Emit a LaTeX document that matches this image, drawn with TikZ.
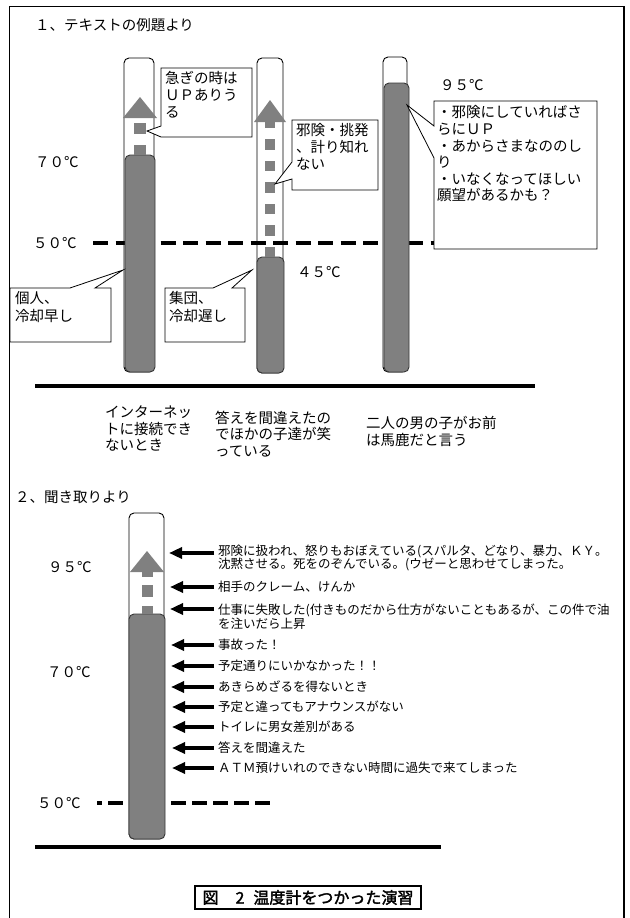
\documentclass[tikz,border=0pt]{standalone}
\usepackage{fontspec}
\setmainfont{Noto Sans CJK JP}
\newfontfamily\capfont[FakeBold=2]{Noto Sans CJK JP}
\usetikzlibrary{arrows.meta}
\definecolor{colgray}{RGB}{128,128,128}
\definecolor{coledge}{RGB}{55,55,55}
\begin{document}
\begin{tikzpicture}[x=1pt,y=-1pt,
  frameline/.style={draw=black,line width=1.4pt},
  tube/.style={draw=black,line width=0.9pt,fill=white,rounded corners=5pt},
  mercury/.style={draw=coledge,line width=0.9pt,fill=colgray,rounded corners=5pt},
  riser/.style={fill=colgray},
  callout/.style={draw=black,line width=0.8pt,fill=white,line join=miter},
  lbl/.style={anchor=west,inner sep=0pt,font=\fontsize{14.5}{17}\selectfont},
  mtext/.style={anchor=north west,inner sep=0pt,align=left,font=\fontsize{14.5}{17}\selectfont},
  stext/.style={anchor=west,inner sep=0pt,font=\fontsize{12.5}{13.5}\selectfont},
  smtext/.style={anchor=north west,inner sep=0pt,align=left,font=\fontsize{12.5}{13.5}\selectfont},
  ground/.style={draw=black,line width=3.2pt},
  limit/.style={draw=black,line width=4pt},
  pointer/.style={draw=black,line width=3.6pt,-{Triangle[length=13pt,width=11pt]}}
]
\useasboundingbox (0,0) rectangle (629,918);
\fill[white] (0,0) rectangle (629,918);
% frame
\draw[frameline] (9.5,918) -- (9.5,6.5) -- (624,6.5) -- (624,918);

% ===== section 1 =====
\node[lbl] (title1) at (35,25) {１、テキストの例題より};

% tubes
\draw[tube] (124,58) rectangle (154,372);
\draw[tube] (257,58) rectangle (283,373);
\draw[tube] (383,57) rectangle (407,372);

% 50 degree line
\draw[limit,dash pattern=on 15pt off 7.5pt] (93,243) -- (440,243);

% mercury columns
\draw[mercury] (125,155) rectangle (155,372);
\draw[mercury] (257,257) rectangle (284,373);
\draw[mercury] (384,83) rectangle (409,372);

% rising arrows
\fill[riser] (123,118) -- (140,97) -- (157,118) -- cycle;
\fill[riser] (134,123) rectangle (146,134);
\fill[riser] (134,145) rectangle (146,155);

\fill[riser] (254,122) -- (270,100) -- (286,122) -- cycle;
\fill[riser] (265,121) rectangle (275,128);
\foreach \yy in {139,160.5,182,203.5,225,246.5}
  \fill[riser] (265,\yy) rectangle (275,\yy+10.5);

% temperature labels
\node[lbl] (t70a) at (35,162) {７０℃};
\node[lbl] (t50a) at (33,243) {５０℃};
\node[lbl] (t45a) at (297,272) {４５℃};
\node[lbl] (t95a) at (440,85) {９５℃};

% callouts
\draw[callout] (161,68) -- (252,68) -- (252,137) -- (161,137) -- (147,131) -- (161,126) -- cycle;
\node[mtext] (c1) at (165,71.5) {急ぎの時は\\ＵＰありう\\る};

\draw[callout] (292,120) -- (378,120) -- (378,190) -- (292,190) -- (292,179) -- (275,184) -- (292,162) -- cycle;
\node[mtext] (c2) at (296,123.5) {邪険・挑発\\、計り知れ\\ない};

\draw[callout] (434,101) -- (597,101) -- (597,249) -- (434,249) -- (434,158) -- (407,105) -- (434,126) -- cycle;
\node[mtext,font=\fontsize{14.5}{16.6}\selectfont] (c3) at (437,105.5)
  {・邪険にしていればさ\\らにＵＰ\\・あからさまなののし\\り\\・いなくなってほしい\\願望があるかも？};

\draw[callout] (10,288) -- (70,288) -- (123,270) -- (95,288) -- (111,288) -- (111,342) -- (10,342) -- cycle;
\node[mtext,font=\fontsize{14.5}{18}\selectfont] (c4) at (15,291.5) {個人、\\冷却早し};

\draw[callout] (165,288) -- (213,288) -- (252,270) -- (232,288) -- (245,288) -- (245,342) -- (165,342) -- cycle;
\node[mtext,font=\fontsize{14.5}{18}\selectfont] (c5) at (169,291.5) {集団、\\冷却遅し};

% ground
\draw[ground] (35,386) -- (535,386);

% case labels
\node[mtext,font=\fontsize{14.5}{16.5}\selectfont] (case1) at (105,405.5) {インターネッ\\トに接続でき\\ないとき};
\node[mtext,font=\fontsize{14.5}{16.5}\selectfont] (case2) at (215,410.5) {答えを間違えたの\\でほかの子達が笑\\っている};
\node[mtext,font=\fontsize{14.5}{16.5}\selectfont] (case3) at (366,416.5) {二人の男の子がお前\\は馬鹿だと言う};

% ===== section 2 =====
\node[lbl] (title2) at (15,497) {２、聞き取りより};

\draw[tube] (129,513) rectangle (164,839);
\draw[limit,dash pattern=on 15pt off 6pt,dash phase=10pt] (97,803) -- (275,803);
\draw[mercury] (129,614) rectangle (165,839);

\fill[riser] (130,572) -- (147,551) -- (164,572) -- cycle;
\fill[riser] (142,571) rectangle (153,577);
\fill[riser] (142,585) rectangle (153,597);
\fill[riser] (142,606) rectangle (153,614);

\node[lbl] (t95b) at (48,567) {９５℃};
\node[lbl] (t70b) at (47,672) {７０℃};
\node[lbl] (t50b) at (37,803) {５０℃};

% arrows and reasons
\foreach \nm/\yy/\tip in {a/553/169,b/587/170,c/609/170,d/645/171,e/666/171,f/687/171,g/707/172,h/727/172,i/748/172,j/768/172}{
  \coordinate (src\nm) at (214,\yy);
  \coordinate (tip\nm) at (\tip,\yy);
  \draw[pointer] (src\nm) -- (tip\nm);
}
\node[smtext,font=\fontsize{12.5}{13}\selectfont] (ra) at (218,544.5)
  {邪険に扱われ、怒りもおぼえている(スパルタ、どなり、暴力、ＫＹ。\\沈黙させる。死をのぞんでいる。(ウゼーと思わせてしまった。};
\node[stext] (rb) at (218,587) {相手のクレーム、けんか};
\node[smtext,font=\fontsize{12.5}{14}\selectfont] (rc) at (218,603.5)
  {仕事に失敗した(付きものだから仕方がないこともあるが、この件で油\\を注いだら上昇};
\node[stext] (rd) at (218,645) {事故った！};
\node[stext] (re) at (218,666) {予定通りにいかなかった！！};
\node[stext] (rf) at (218,687) {あきらめざるを得ないとき};
\node[stext] (rg) at (218,707) {予定と違ってもアナウンスがない};
\node[stext] (rh) at (218,727) {トイレに男女差別がある};
\node[stext] (ri) at (218,748) {答えを間違えた};
\node[stext] (rj) at (218,768) {ＡＴＭ預けいれのできない時間に過失で来てしまった};

\draw[ground] (35,847) -- (441,847);

% caption
\node[draw=black,line width=1.2pt,minimum width=226pt,minimum height=23pt,inner sep=0pt,
      font=\capfont\fontsize{16}{18}\selectfont] (caption) at (308,897.5)
  {図\hspace{17pt}2\hspace{9pt}温度計をつかった演習};
\end{tikzpicture}
\end{document}
